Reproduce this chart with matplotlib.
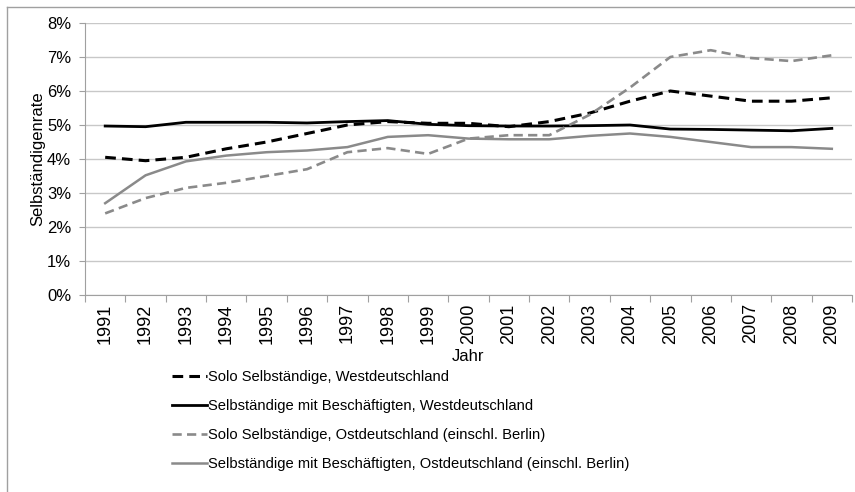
import matplotlib.pyplot as plt
from matplotlib.lines import Line2D
from matplotlib.ticker import FixedLocator, PercentFormatter

plt.rcParams['font.family'] = ['Liberation Sans', 'DejaVu Sans']

jahre = [str(j) for j in range(1991, 2010)]

# Werte in Prozent
solo_west = [4.05, 3.95, 4.05, 4.3, 4.5, 4.75, 5.0, 5.1, 5.05, 5.05,
             4.95, 5.1, 5.35, 5.7, 6.0, 5.85, 5.7, 5.7, 5.8]
besch_west = [4.97, 4.95, 5.08, 5.08, 5.08, 5.06, 5.1, 5.13, 5.02, 4.98,
              4.97, 4.97, 4.98, 5.0, 4.88, 4.87, 4.85, 4.83, 4.9]
solo_ost = [2.4, 2.85, 3.15, 3.3, 3.5, 3.7, 4.2, 4.32, 4.15, 4.6,
            4.7, 4.7, 5.3, 6.1, 7.0, 7.2, 6.97, 6.88, 7.05]
besch_ost = [2.7, 3.52, 3.93, 4.1, 4.2, 4.25, 4.35, 4.65, 4.7, 4.6,
             4.58, 4.58, 4.68, 4.75, 4.65, 4.5, 4.35, 4.35, 4.3]

labels = ['Solo Selbständige, Westdeutschland',
          'Selbständige mit Beschäftigten, Westdeutschland',
          'Solo Selbständige, Ostdeutschland (einschl. Berlin)',
          'Selbständige mit Beschäftigten, Ostdeutschland (einschl. Berlin)']

W, H = 855, 492
fig = plt.figure(figsize=(W / 100, H / 100), dpi=100)
ax = fig.add_axes([85 / W, 1 - 295 / H, (852 - 85) / W, (295 - 23) / H])

grau = '#8a8a8a'
ax.plot(jahre, solo_west, color='black', lw=2.2, ls=(0, (3.5, 2)), label=labels[0])
ax.plot(jahre, besch_west, color='black', lw=2.0, label=labels[1])
ax.plot(jahre, solo_ost, color=grau, lw=1.9, ls=(0, (3.5, 2)), label=labels[2])
ax.plot(jahre, besch_ost, color=grau, lw=1.8, label=labels[3])

ax.set_xlim(-0.5, len(jahre) - 0.5)
ax.set_ylim(0, 8)
ax.set_yticks(range(0, 9))
ax.yaxis.set_major_formatter(PercentFormatter(decimals=0))
ax.grid(axis='y', color='#c8c8c8', lw=1)
ax.set_axisbelow(True)

# Striche zwischen den Kategorien, Beschriftung in der Mitte
ax.xaxis.set_major_locator(FixedLocator([i - 0.5 for i in range(len(jahre) + 1)]))
ax.xaxis.set_minor_locator(FixedLocator(range(len(jahre))))
ax.xaxis.set_major_formatter(plt.NullFormatter())
ax.set_xticks(range(len(jahre)), jahre, minor=True, rotation=90, fontsize=13)
ax.tick_params(axis='x', which='major', length=5, color='#a0a0a0')
ax.tick_params(axis='x', which='minor', length=0, pad=6)
ax.tick_params(axis='y', length=4, color='#a0a0a0', labelsize=12, pad=6)

for s in ['top', 'right']:
    ax.spines[s].set_visible(False)
for s in ['left', 'bottom']:
    ax.spines[s].set_color('#a0a0a0')

ax.set_xlabel('Jahr', fontsize=12, labelpad=4)
ax.set_ylabel('Selbständigenrate', fontsize=12, labelpad=1)

fig.legend(loc='upper left', bbox_to_anchor=(172 / W, 1 - 370 / H),
           frameon=False, fontsize=10.6, handlelength=2.4, handletextpad=0.05,
           labelspacing=1.02, borderpad=0, borderaxespad=0)

# Rahmen oben und links
fig.add_artist(Line2D([7 / W, 1], [1 - 7 / H, 1 - 7 / H], color='#a0a0a0', lw=1))
fig.add_artist(Line2D([7 / W, 7 / W], [0, 1 - 7 / H], color='#a0a0a0', lw=1))

fig.savefig('out.png', dpi=100)
